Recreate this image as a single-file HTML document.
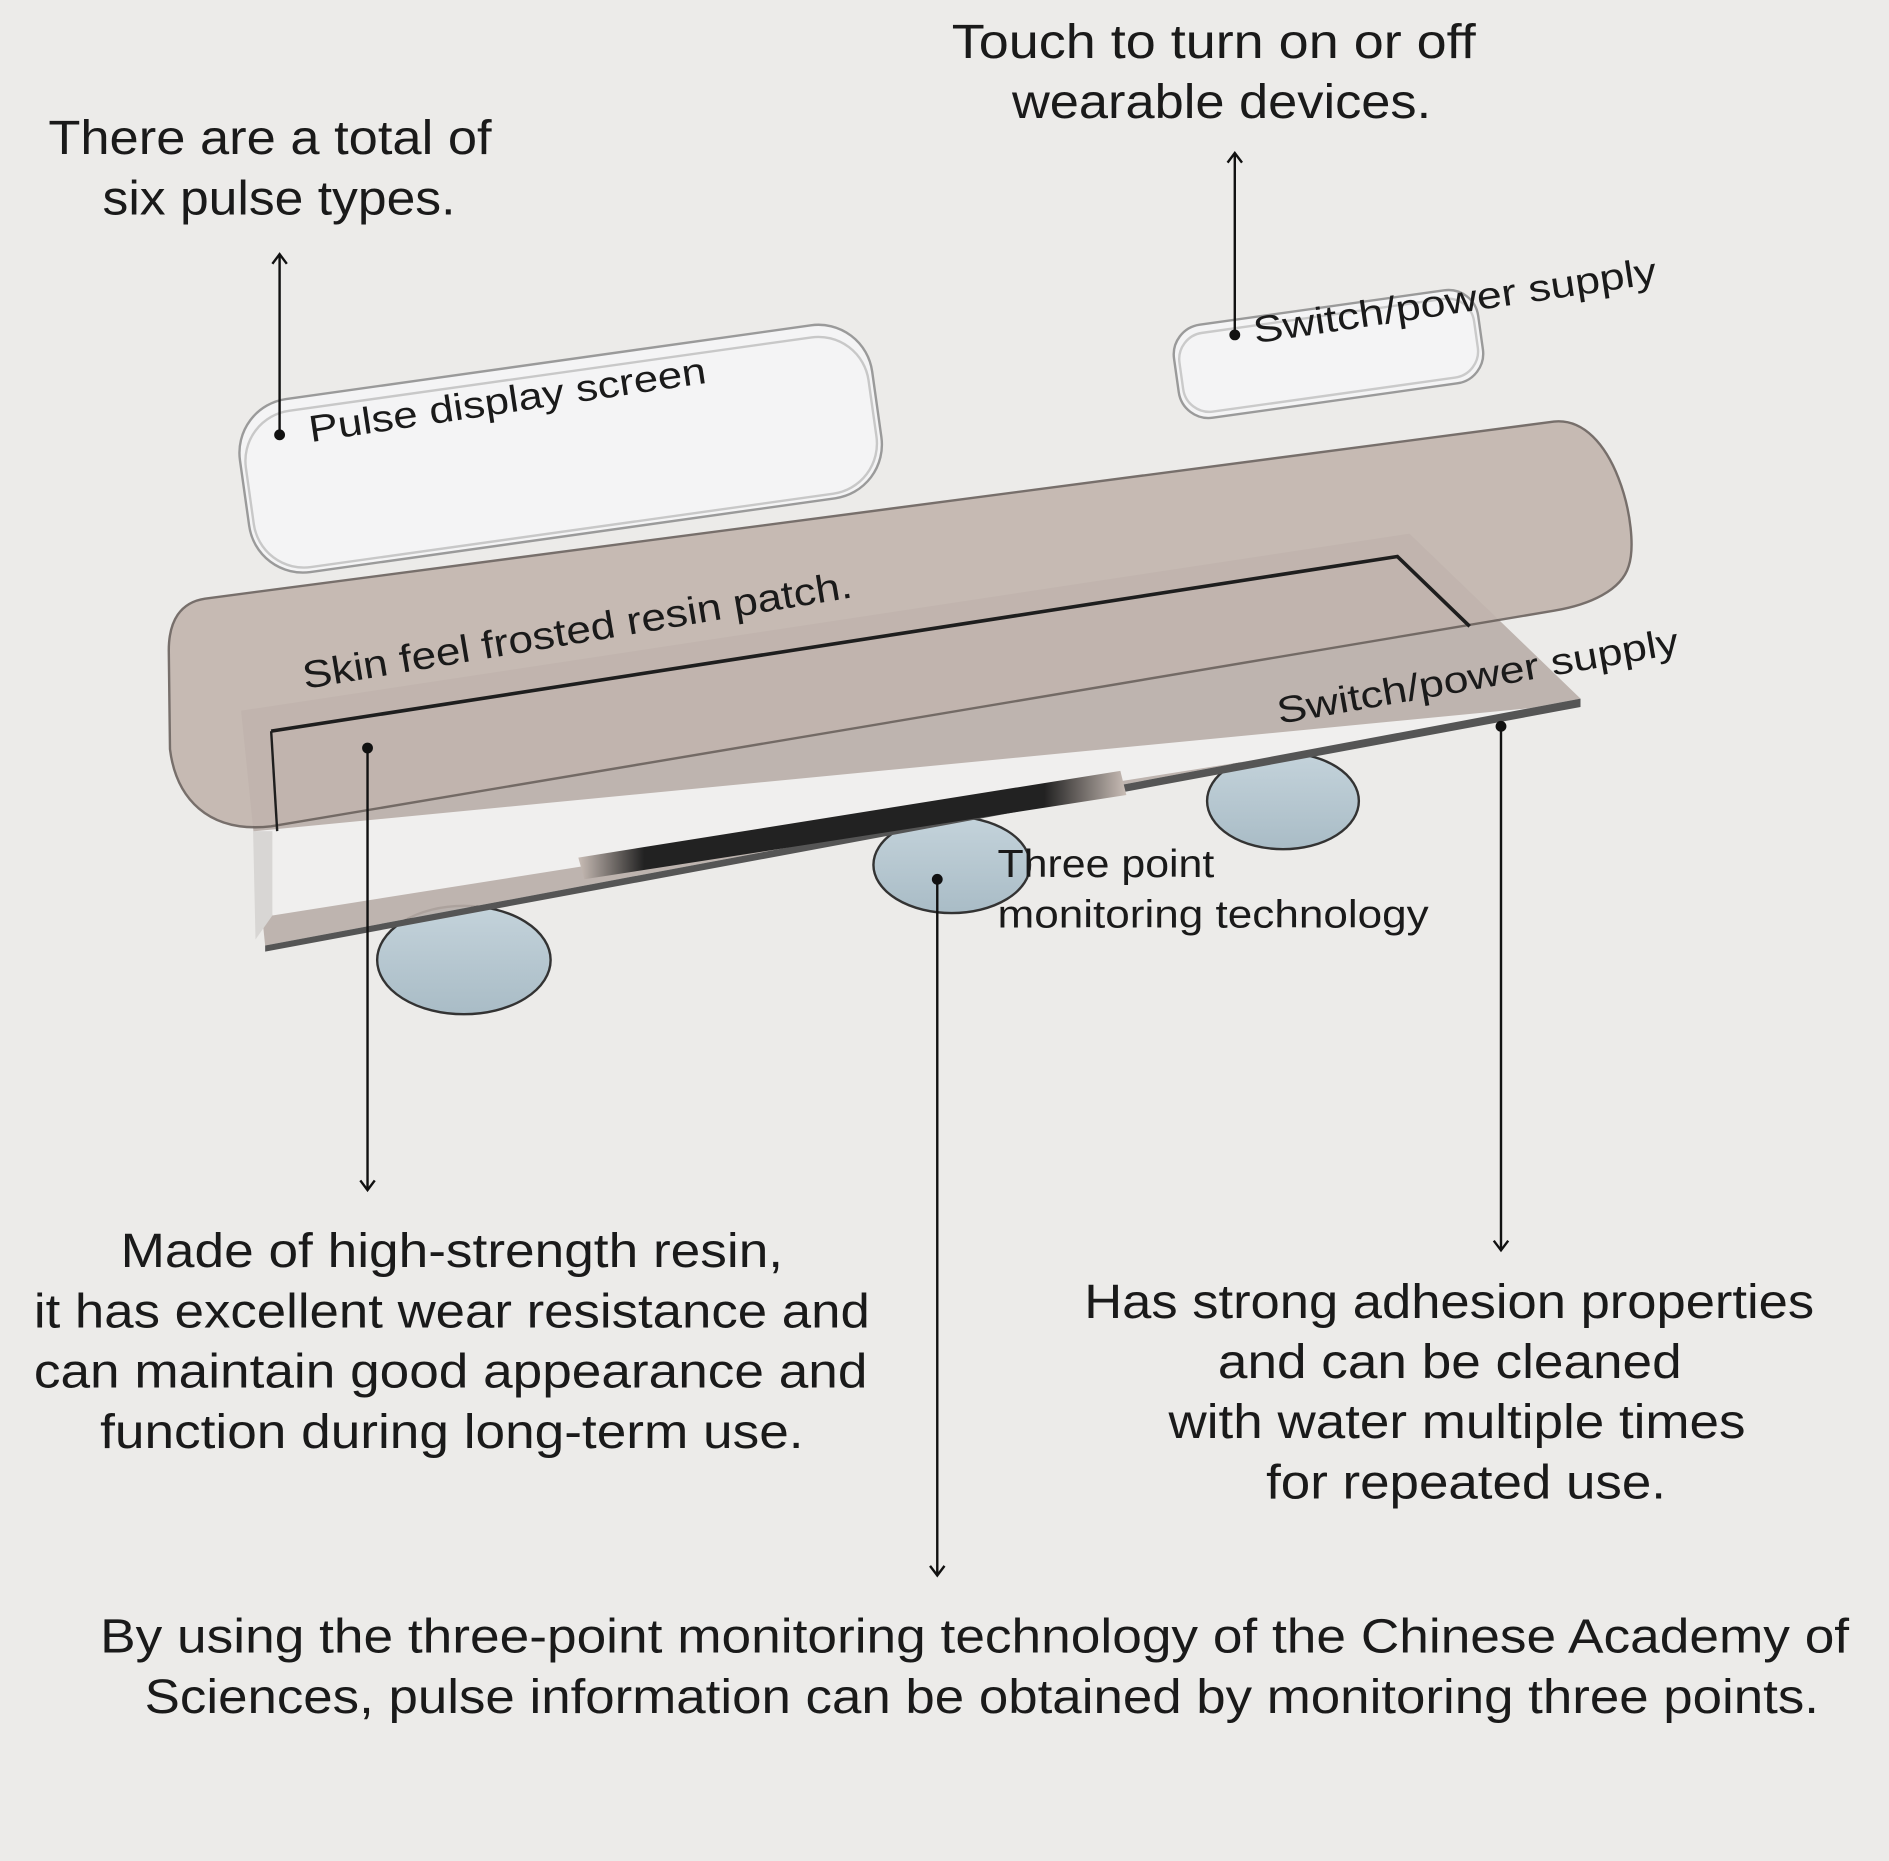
<!DOCTYPE html>
<html><head><meta charset="utf-8"><style>
html,body{margin:0;padding:0;background:#ecebe9;}
svg{display:block;}
text{font-family:"Liberation Sans",sans-serif;fill:#1a1a1a;}
</style></head><body>
<svg width="1889" height="1861" viewBox="0 0 1568 1545" xmlns="http://www.w3.org/2000/svg">
<defs>
<linearGradient id="bar" x1="0" x2="1" y1="0" y2="0">
<stop offset="0" stop-color="#c9bdb6"/><stop offset="0.12" stop-color="#222"/><stop offset="0.85" stop-color="#222"/><stop offset="1" stop-color="#c9bdb6"/></linearGradient>
<linearGradient id="circ" x1="0" x2="0" y1="0" y2="1">
<stop offset="0" stop-color="#c4d3db"/><stop offset="1" stop-color="#a9bcc6"/></linearGradient>
</defs>
<rect width="1568" height="1545" fill="#ecebe9"/>

<ellipse cx="385" cy="797" rx="72" ry="45" fill="url(#circ)" stroke="#333" stroke-width="2"/>
<ellipse cx="790" cy="718" rx="65" ry="40" fill="url(#circ)" stroke="#333" stroke-width="2"/>
<ellipse cx="1065" cy="665" rx="63" ry="40" fill="url(#circ)" stroke="#333" stroke-width="2"/>

<path d="M200,590 L1170,443 L1312,580 L220,785 Z" fill="#b9aea8" opacity="0.9"/>
<path d="M212,690 L1300,585 L1300,590 L226,760 Z" fill="#f0efee"/>
<path d="M220,785 L1312,580 L1312,587 L220,790 Z" fill="#555"/>
<path d="M480,712 L930,640 L935,660 L485,730 Z" fill="url(#bar)"/>
<path d="M210,690 L212,780 L226,760 L226,690 Z" fill="#d8d6d4"/>

<path d="M170,497 L1290,350 C1340,345 1362,440 1352,470 C1346,490 1320,502 1290,507 L225,686 C172,692 146,662 141,622 L140,540 C140,515 150,500 170,497 Z" fill="#c2b5ae" opacity="0.9" stroke="#6b625e" stroke-width="2"/>
<path d="M225,607 L1160,462 L1220,520" fill="none" stroke="#1e1e1e" stroke-width="3"/>
<path d="M225,607 L230,690" fill="none" stroke="#1e1e1e" stroke-width="2"/>

<g transform="rotate(-8 465 370)">
<rect x="200" y="300" width="530" height="145" rx="45" fill="#f4f4f5" stroke="#9a9a9a" stroke-width="2"/>
<rect x="204" y="310" width="522" height="131" rx="42" fill="none" stroke="#c8c8c8" stroke-width="2"/>
</g>
<g transform="rotate(-8 1102 292)">
<rect x="975" y="255" width="255" height="78" rx="25" fill="#f4f4f5" stroke="#9a9a9a" stroke-width="2"/>
<rect x="979" y="262" width="247" height="66" rx="22" fill="none" stroke="#cacaca" stroke-width="2"/>
</g>

<g stroke="#111" stroke-width="2" fill="none">
<line x1="232" y1="361" x2="232" y2="211"/><polyline points="226,219 232,211 238,219"/>
<line x1="1025" y1="278" x2="1025" y2="127"/><polyline points="1019,135 1025,127 1031,135"/>
<line x1="305" y1="621" x2="305" y2="988"/><polyline points="299,980 305,988 311,980"/>
<line x1="778" y1="730" x2="778" y2="1308"/><polyline points="772,1300 778,1308 784,1300"/>
<line x1="1246" y1="603" x2="1246" y2="1038"/><polyline points="1240,1030 1246,1038 1252,1030"/>
</g>
<g fill="#111">
<circle cx="232" cy="361" r="4.5"/><circle cx="1025" cy="278" r="4.5"/><circle cx="305" cy="621" r="4.5"/><circle cx="778" cy="730" r="4.5"/><circle cx="1246" cy="603" r="4.5"/>
</g>

<g lengthAdjust="spacingAndGlyphs">
<text x="258" y="367" font-size="31" textLength="333" lengthAdjust="spacingAndGlyphs" transform="rotate(-8.5 258 367)">Pulse display screen</text>
<text x="1042" y="285" font-size="31" textLength="338" lengthAdjust="spacingAndGlyphs" transform="rotate(-8.5 1042 285)">Switch/power supply</text>
<text x="253" y="572" font-size="32" textLength="462" lengthAdjust="spacingAndGlyphs" transform="rotate(-9.5 253 572)">Skin feel frosted resin patch.</text>
<text x="1062" y="601" font-size="31" textLength="338" lengthAdjust="spacingAndGlyphs" transform="rotate(-10 1062 601)">Switch/power supply</text>
<text x="828" y="728" font-size="32" textLength="180" lengthAdjust="spacingAndGlyphs">Three point</text>
<text x="828" y="770" font-size="32" textLength="358" lengthAdjust="spacingAndGlyphs">monitoring technology</text>
</g>

<g font-size="40">
<text x="40" y="128" textLength="368" lengthAdjust="spacingAndGlyphs">There are a total of</text>
<text x="85" y="178" textLength="293" lengthAdjust="spacingAndGlyphs">six pulse types.</text>
<text x="790" y="48" textLength="435" lengthAdjust="spacingAndGlyphs">Touch to turn on or off</text>
<text x="840" y="98" textLength="348" lengthAdjust="spacingAndGlyphs">wearable devices.</text>
<text x="100" y="1052" textLength="550" lengthAdjust="spacingAndGlyphs">Made of high-strength resin,</text>
<text x="28" y="1102" textLength="694" lengthAdjust="spacingAndGlyphs">it has excellent wear resistance and</text>
<text x="28" y="1152" textLength="692" lengthAdjust="spacingAndGlyphs">can maintain good appearance and</text>
<text x="83" y="1202" textLength="584" lengthAdjust="spacingAndGlyphs">function during long-term use.</text>
<text x="900" y="1094" textLength="606" lengthAdjust="spacingAndGlyphs">Has strong adhesion properties</text>
<text x="1011" y="1144" textLength="385" lengthAdjust="spacingAndGlyphs">and can be cleaned</text>
<text x="970" y="1194" textLength="479" lengthAdjust="spacingAndGlyphs">with water multiple times</text>
<text x="1051" y="1244" textLength="332" lengthAdjust="spacingAndGlyphs">for repeated use.</text>
<text x="83" y="1372" textLength="1452" lengthAdjust="spacingAndGlyphs">By using the three-point monitoring technology of the Chinese Academy of</text>
<text x="120" y="1422" textLength="1390" lengthAdjust="spacingAndGlyphs">Sciences, pulse information can be obtained by monitoring three points.</text>
</g>
</svg>
</body></html>
